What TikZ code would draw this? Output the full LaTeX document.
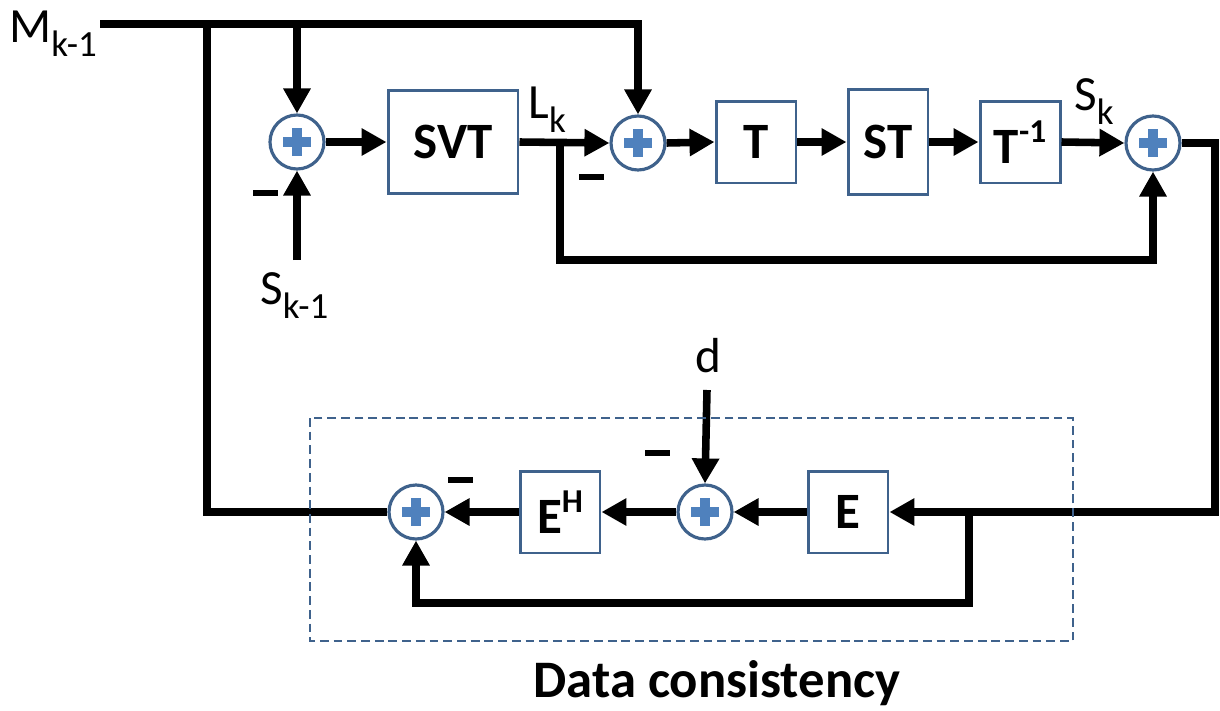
\documentclass[tikz,border=0pt]{standalone}
\usepackage{fontspec}
\setmainfont{Carlito}
\usetikzlibrary{arrows.meta}
\definecolor{boxc}{RGB}{63,98,140}
\definecolor{sumc}{RGB}{63,98,140}
\definecolor{plusc}{RGB}{79,129,189}
\newcommand{\subt}[1]{\raisebox{-0.30em}{\fontsize{21}{22}\selectfont #1}}
\newcommand{\supt}[1]{\raisebox{0.40em}{\fontsize{19}{20}\selectfont\bfseries #1}}
\begin{document}
\begin{tikzpicture}[x=0.02cm,y=-0.02cm,
  every node/.style={font=\fontsize{28}{32}\selectfont},
  wire/.style={line width=4.3pt,black},
  arr/.style={wire,-{Triangle[length=0.5cm,width=0.52cm]}},
  blk/.style={draw=boxc,line width=1.7pt,fill=white,inner sep=0pt,
    minimum width=1.6cm,minimum height=1.64cm,font=\fontsize{29}{32}\selectfont\bfseries},
  sumnode/.style={circle,draw=sumc,line width=1.8pt,fill=white,inner sep=0pt,minimum size=1.08cm,
    path picture={
      \fill[plusc] ([shift={(-0.28cm,-0.095cm)}]path picture bounding box.center) rectangle ([shift={(0.28cm,0.095cm)}]path picture bounding box.center);
      \fill[plusc] ([shift={(-0.095cm,-0.28cm)}]path picture bounding box.center) rectangle ([shift={(0.095cm,0.28cm)}]path picture bounding box.center);}},
  minussign/.style={fill=black,inner sep=0pt,minimum width=0.5cm,minimum height=0.12cm},
  lbl/.style={inner sep=0pt}]
\useasboundingbox (0,0) rectangle (1220,710);

% nodes
\node[sumnode] (s1) at (297,142) {};
\node[blk,minimum width=2.6cm,minimum height=2.08cm] (svt) at (453,142) {SVT};
\node[sumnode] (s2) at (638,143) {};
\node[blk] (t) at (756,142) {T};
\node[blk,minimum height=2.12cm] (st) at (888,142) {ST};
\node[blk] (tinv) at (1020,142) {T\supt{-1}};
\node[sumnode] (s3) at (1153,143) {};
\node[blk] (e) at (848,512) {E};
\node[sumnode] (sd) at (705,512) {};
\node[blk] (eh) at (560,512) {E\supt{H}};
\node[sumnode] (s4) at (416,512) {};

% coordinates
\coordinate (mstart) at (100,24);
\coordinate (mleft) at (207,24);
\coordinate (m1) at (297,24);
\coordinate (sin) at (297,260);
\coordinate (lk) at (560,143);
\coordinate (lkb) at (560,260);
\coordinate (rtop) at (1215,143);
\coordinate (ebr) at (969,512);
\coordinate (ebb) at (969,603);
\coordinate (din) at (707,390);

% labels
\node[lbl,anchor=base west] (mlab) at (9,42) {M\subt{k-1}};
\node[lbl,anchor=base west] (slab) at (260,304) {S\subt{k-1}};
\node[lbl,anchor=base west] (llab) at (528,118) {L\subt{k}};
\node[lbl,anchor=base west] (sklab) at (1074,110) {S\subt{k}};
\node[lbl] (dlab) at (708,356) {d};
\node[lbl,font=\fontsize{30}{34}\selectfont\bfseries] (dc) at (717,683) {Data consistency};

% minus signs
\node[minussign] (n1) at (265,193) {};
\node[minussign] (n2) at (591,177) {};
\node[minussign] (n3) at (657,453) {};
\node[minussign] (n4) at (460,480) {};

% wires
\draw[arr] (mstart) -| (s2.north);
\draw[wire] (s4.west) -| (mleft);
\draw[arr] (m1) -- (s1.north);
\draw[arr] (sin) -- (s1.south);
\draw[arr] (s1.east) -- (svt.west);
\draw[arr] (svt.east) -- (s2.west);
\draw[arr] (lk) -- (lkb) -| (s3.south);
\draw[arr] (s2.east) -- (t.west);
\draw[arr] (t.east) -- (st.west);
\draw[arr] (st.east) -- (tinv.west);
\draw[arr] (tinv.east) -- (s3.west);
\draw[arr] (s3.east) -- (rtop) |- (e.east);
\draw[arr] (e.west) -- (sd.east);
\draw[arr] (sd.west) -- (eh.east);
\draw[arr] (eh.west) -- (s4.east);
\draw[arr] (ebr) -- (ebb) -| (s4.south);
\draw[arr] (din) -- (sd.north);

% dashed frame
\draw[boxc,line width=1.5pt,dash pattern=on 5pt off 2.8pt] (310,418) rectangle (1073,641);
\end{tikzpicture}
\end{document}
